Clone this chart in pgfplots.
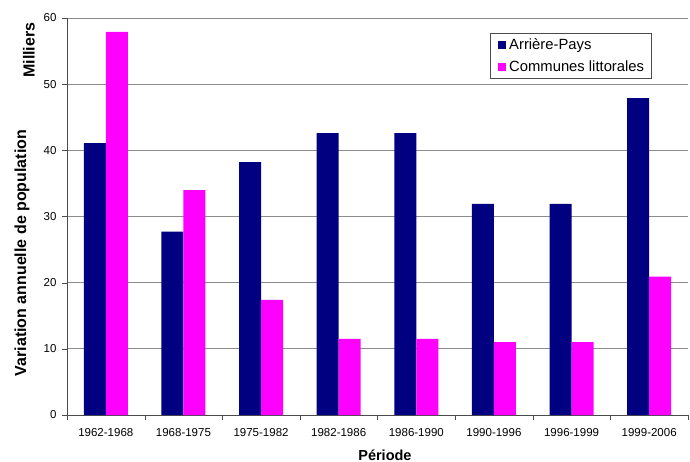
\documentclass[border=0pt]{standalone}
\usepackage{pgfplots}
\pgfplotsset{compat=1.18}
\usepackage{fontspec}
\setmainfont{Liberation Sans}
\definecolor{arriere}{HTML}{000080}
\definecolor{littoral}{HTML}{FF00FF}
\definecolor{gridgray}{HTML}{8C8C8C}

\pgfplotstableread{
x arriere littoral
0 41.1 57.9
1 27.7 34.0
2 38.2 17.4
3 42.6 11.5
4 42.6 11.5
5 31.9 11.0
6 31.9 11.0
7 47.9 20.9
}\variation

\begin{document}
\begin{tikzpicture}
\useasboundingbox (-67bp,-47bp) rectangle (623bp,415bp);
\begin{axis}[
  at={(0,0)}, anchor=south west,
  scale only axis,
  width=621bp, height=397bp,
  clip=false,
  xmin=-0.5, xmax=7.5,
  ymin=0, ymax=60,
  ytick={0,10,...,60},
  xtick={0,...,7},
  xticklabels={1962-1968,1968-1975,1975-1982,1982-1986,1986-1990,1990-1996,1996-1999,1999-2006},
  minor xtick={-0.5,0.5,...,7.5},
  major x tick style={draw=none},
  minor x tick style={black!70},
  y tick style={black!70},
  tick align=outside,
  major tick length=5bp,
  minor tick length=5bp,
  axis x line*=bottom,
  axis y line*=left,
  axis line style={black!70, line width=0.8pt, -},
  ymajorgrids,
  major grid style={gridgray, line width=0.7pt},
  /pgf/number format/assume math mode=true,
  tick label style={font=\fontsize{11.5bp}{13bp}\selectfont},
  yticklabel style={xshift=-2bp},
  xticklabel style={yshift=-5bp},
  ybar=0pt,
  bar width=22bp,
  legend style={
    at={(0.681,0.962)}, anchor=north west,
    draw=black!70, line width=0.6pt,
    font=\fontsize{14.8bp}{17bp}\selectfont,
    inner xsep=4bp, inner ysep=3bp,
    row sep=6bp,
    legend cell align=left,
    nodes={inner xsep=3bp},
  },
  legend image code/.code={\path (0bp,0bp); \fill[#1] (4bp,-4bp) rectangle (12bp,4bp);},
]
\addplot[fill=arriere, draw=none] table[x=x, y=arriere] {\variation};
\addlegendentry{Arrière-Pays}
\addplot[fill=littoral, draw=none] table[x=x, y=littoral] {\variation};
\addlegendentry{Communes littorales}

\node[xshift=-45bp, rotate=90, font=\bfseries\fontsize{16bp}{18bp}\selectfont]
  at (rel axis cs:0,0.408) {Variation annuelle de population};
\node[xshift=-38bp, rotate=90, font=\bfseries\fontsize{16bp}{18bp}\selectfont]
  at (rel axis cs:0,0.919) {Milliers};
\node[yshift=-40bp, font=\bfseries\fontsize{14.5bp}{16bp}\selectfont]
  at (rel axis cs:0.512,0) {Période};
\end{axis}
\end{tikzpicture}
\end{document}
